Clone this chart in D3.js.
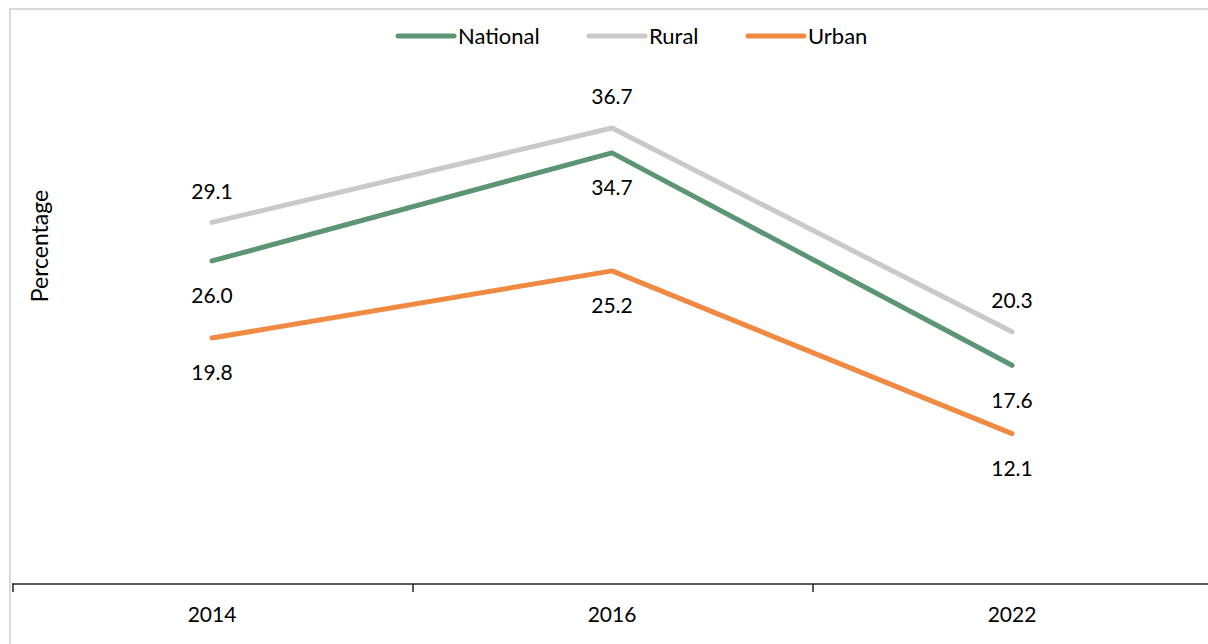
<!DOCTYPE html>
<html><head><meta charset="utf-8">
<script src="https://cdn.jsdelivr.net/npm/d3@7"></script>
<style>html,body{margin:0;padding:0;background:#fff;overflow:hidden}</style>
</head><body>
<svg id="chart" width="1208" height="644"></svg>
<script>
const years = ["2014", "2016", "2022"];
const seriesNames = ["National", "Rural", "Urban"];
const national = [26.0, 34.7, 17.6];
const rural = [29.1, 36.7, 20.3];
const urban = [19.8, 25.2, 12.1];
const colors = ["#5b9574", "#c9c9c9", "#f08a43"];
const labelPos = ["below", "above", "below"];

const series = [national, rural, urban];
const font = "Lato, 'Open Sans', sans-serif";
const svg = d3.select("#chart");

// outer border
svg.append("rect").attr("x", 10).attr("y", 9).attr("width", 1400).attr("height", 800)
  .attr("fill", "none").attr("stroke", "#d9d9d9").attr("stroke-width", 2);

const x = d3.scaleBand().domain(years).range([12, 1212]);
const y = d3.scaleLinear().domain([0, 40]).range([584, 87]);

// x axis
const xAxis = d3.axisBottom(x).tickSize(0).tickPadding(0);
const gx = svg.append("g").attr("transform", "translate(0,584)").call(xAxis);
gx.select(".domain").remove();
gx.selectAll(".tick text").attr("dy", 0).attr("y", 38)
  .style("font-family", font).style("font-size", "21px").attr("fill", "#000");
svg.append("line").attr("x1", 12).attr("x2", 1212).attr("y1", 584).attr("y2", 584)
  .attr("stroke", "#222").attr("stroke-width", 1.5);
// boundary ticks
const bounds = years.map(d => x(d)).concat([x(years[years.length - 1]) + x.bandwidth()]);
svg.selectAll(".btick").data(bounds).enter().append("line")
  .attr("x1", d => d + 1).attr("x2", d => d + 1).attr("y1", 584).attr("y2", 592)
  .attr("stroke", "#222").attr("stroke-width", 1.5);

// y label
svg.append("text").attr("transform", "translate(48,246) rotate(-90)")
  .attr("text-anchor", "middle").style("font-family", font).style("font-size", "23px")
  .text("Percentage");

const line = d3.line().x((d, i) => x(years[i]) + x.bandwidth() / 2).y(d => y(d));

// draw order: rural, national, urban
[1, 0, 2].forEach(si => {
  svg.append("path").datum(series[si]).attr("d", line)
    .attr("fill", "none").attr("stroke", colors[si]).attr("stroke-width", 5)
    .attr("stroke-linecap", "round").attr("stroke-linejoin", "round");
});

series.forEach((vals, si) => {
  svg.selectAll(".lbl" + si).data(vals).enter().append("text")
    .attr("x", (d, i) => x(years[i]) + x.bandwidth() / 2)
    .attr("y", d => labelPos[si] === "above" ? y(d) - 31 : y(d) + 35)
    .attr("dy", "0.35em").attr("text-anchor", "middle")
    .style("font-family", font).style("font-size", "21px").attr("fill", "#000")
    .text(d => d.toFixed(1));
});

// legend
const legX = [398, 589, 748];
seriesNames.forEach((name, i) => {
  svg.append("line").attr("x1", legX[i]).attr("x2", legX[i] + 56).attr("y1", 36).attr("y2", 36)
    .attr("stroke", colors[i]).attr("stroke-width", 5).attr("stroke-linecap", "round");
  svg.append("text").attr("x", legX[i] + 60).attr("y", 36).attr("dy", "0.35em")
    .style("font-family", font).style("font-size", "22px").attr("fill", "#000").text(name);
});
</script>
</body></html>
